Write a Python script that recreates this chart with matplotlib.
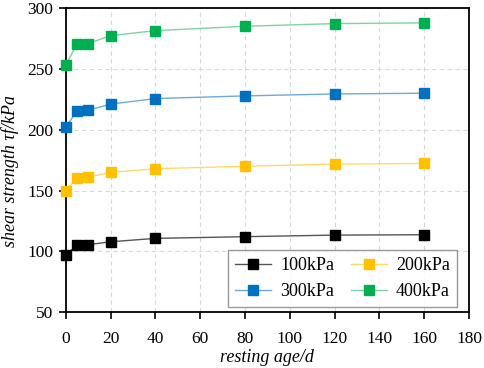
import matplotlib
matplotlib.use("Agg")
import matplotlib.pyplot as plt

x = [0, 5, 10, 20, 40, 80, 120, 160]
s100 = [97.1, 104.8, 105.4, 107.8, 110.6, 112.0, 113.3, 113.6]
s200 = [150.0, 160.2, 161.0, 164.9, 167.9, 170.0, 171.7, 172.3]
s300 = [201.9, 215.6, 216.1, 221.1, 225.7, 227.9, 229.5, 230.1]
s400 = [253.4, 270.4, 271.0, 277.5, 281.6, 285.2, 287.4, 288.0]
labels = ["100kPa", "200kPa", "300kPa", "400kPa"]

plt.rcParams['font.family'] = ['Liberation Serif', 'DejaVu Serif']
fig = plt.figure(figsize=(4.84, 3.68), dpi=100)
ax = fig.add_axes([65.7/484, 1-312/368, (469-65.7)/484, (312-8.3)/368])

series = [(s100, '#000000', '#555555'), (s200, '#FFC000', '#FFD966'),
          (s300, '#0070C0', '#6FA8DC'), (s400, '#00B050', '#7FD3A0')]
handles = []
for (ys, mc, lc), lab in zip(series, labels):
    h, = ax.plot(x, ys, color=lc, lw=1.0, marker='s', ms=7, mfc=mc, mec=mc,
                 label=lab, clip_on=False, zorder=3)
    handles.append(h)

ax.set_xlim(0, 180)
ax.set_ylim(50, 300)
ax.set_xticks(range(0, 181, 20))
ax.set_yticks(range(50, 301, 50))
ax.grid(True, ls=(0, (4, 3)), color='#d9d9d9', lw=0.8)
ax.set_axisbelow(True)
for sp in ax.spines.values():
    sp.set_linewidth(1.3)
ax.tick_params(direction='out', length=5, width=1.2, labelsize=12.5, pad=4)
ax.tick_params(axis='x', pad=9)
ax.set_xlabel('resting age/d', fontsize=13, style='italic', labelpad=1)
ax.set_ylabel('shear strength τf/kPa', fontsize=13, style='italic', labelpad=2)
ax.yaxis.set_label_coords(-0.115, 0.464)

order = [0, 2, 1, 3]
leg = ax.legend([handles[i] for i in order], [labels[i] for i in order],
                ncol=2, loc='lower right', bbox_to_anchor=(0.970, 0.016),
                borderaxespad=0, fontsize=13, frameon=True, fancybox=False,
                edgecolor='#808080', handlelength=2.0, columnspacing=0.9,
                handletextpad=0.5)
leg.get_frame().set_linewidth(1.0)
fig.savefig('out.png', dpi=100)
